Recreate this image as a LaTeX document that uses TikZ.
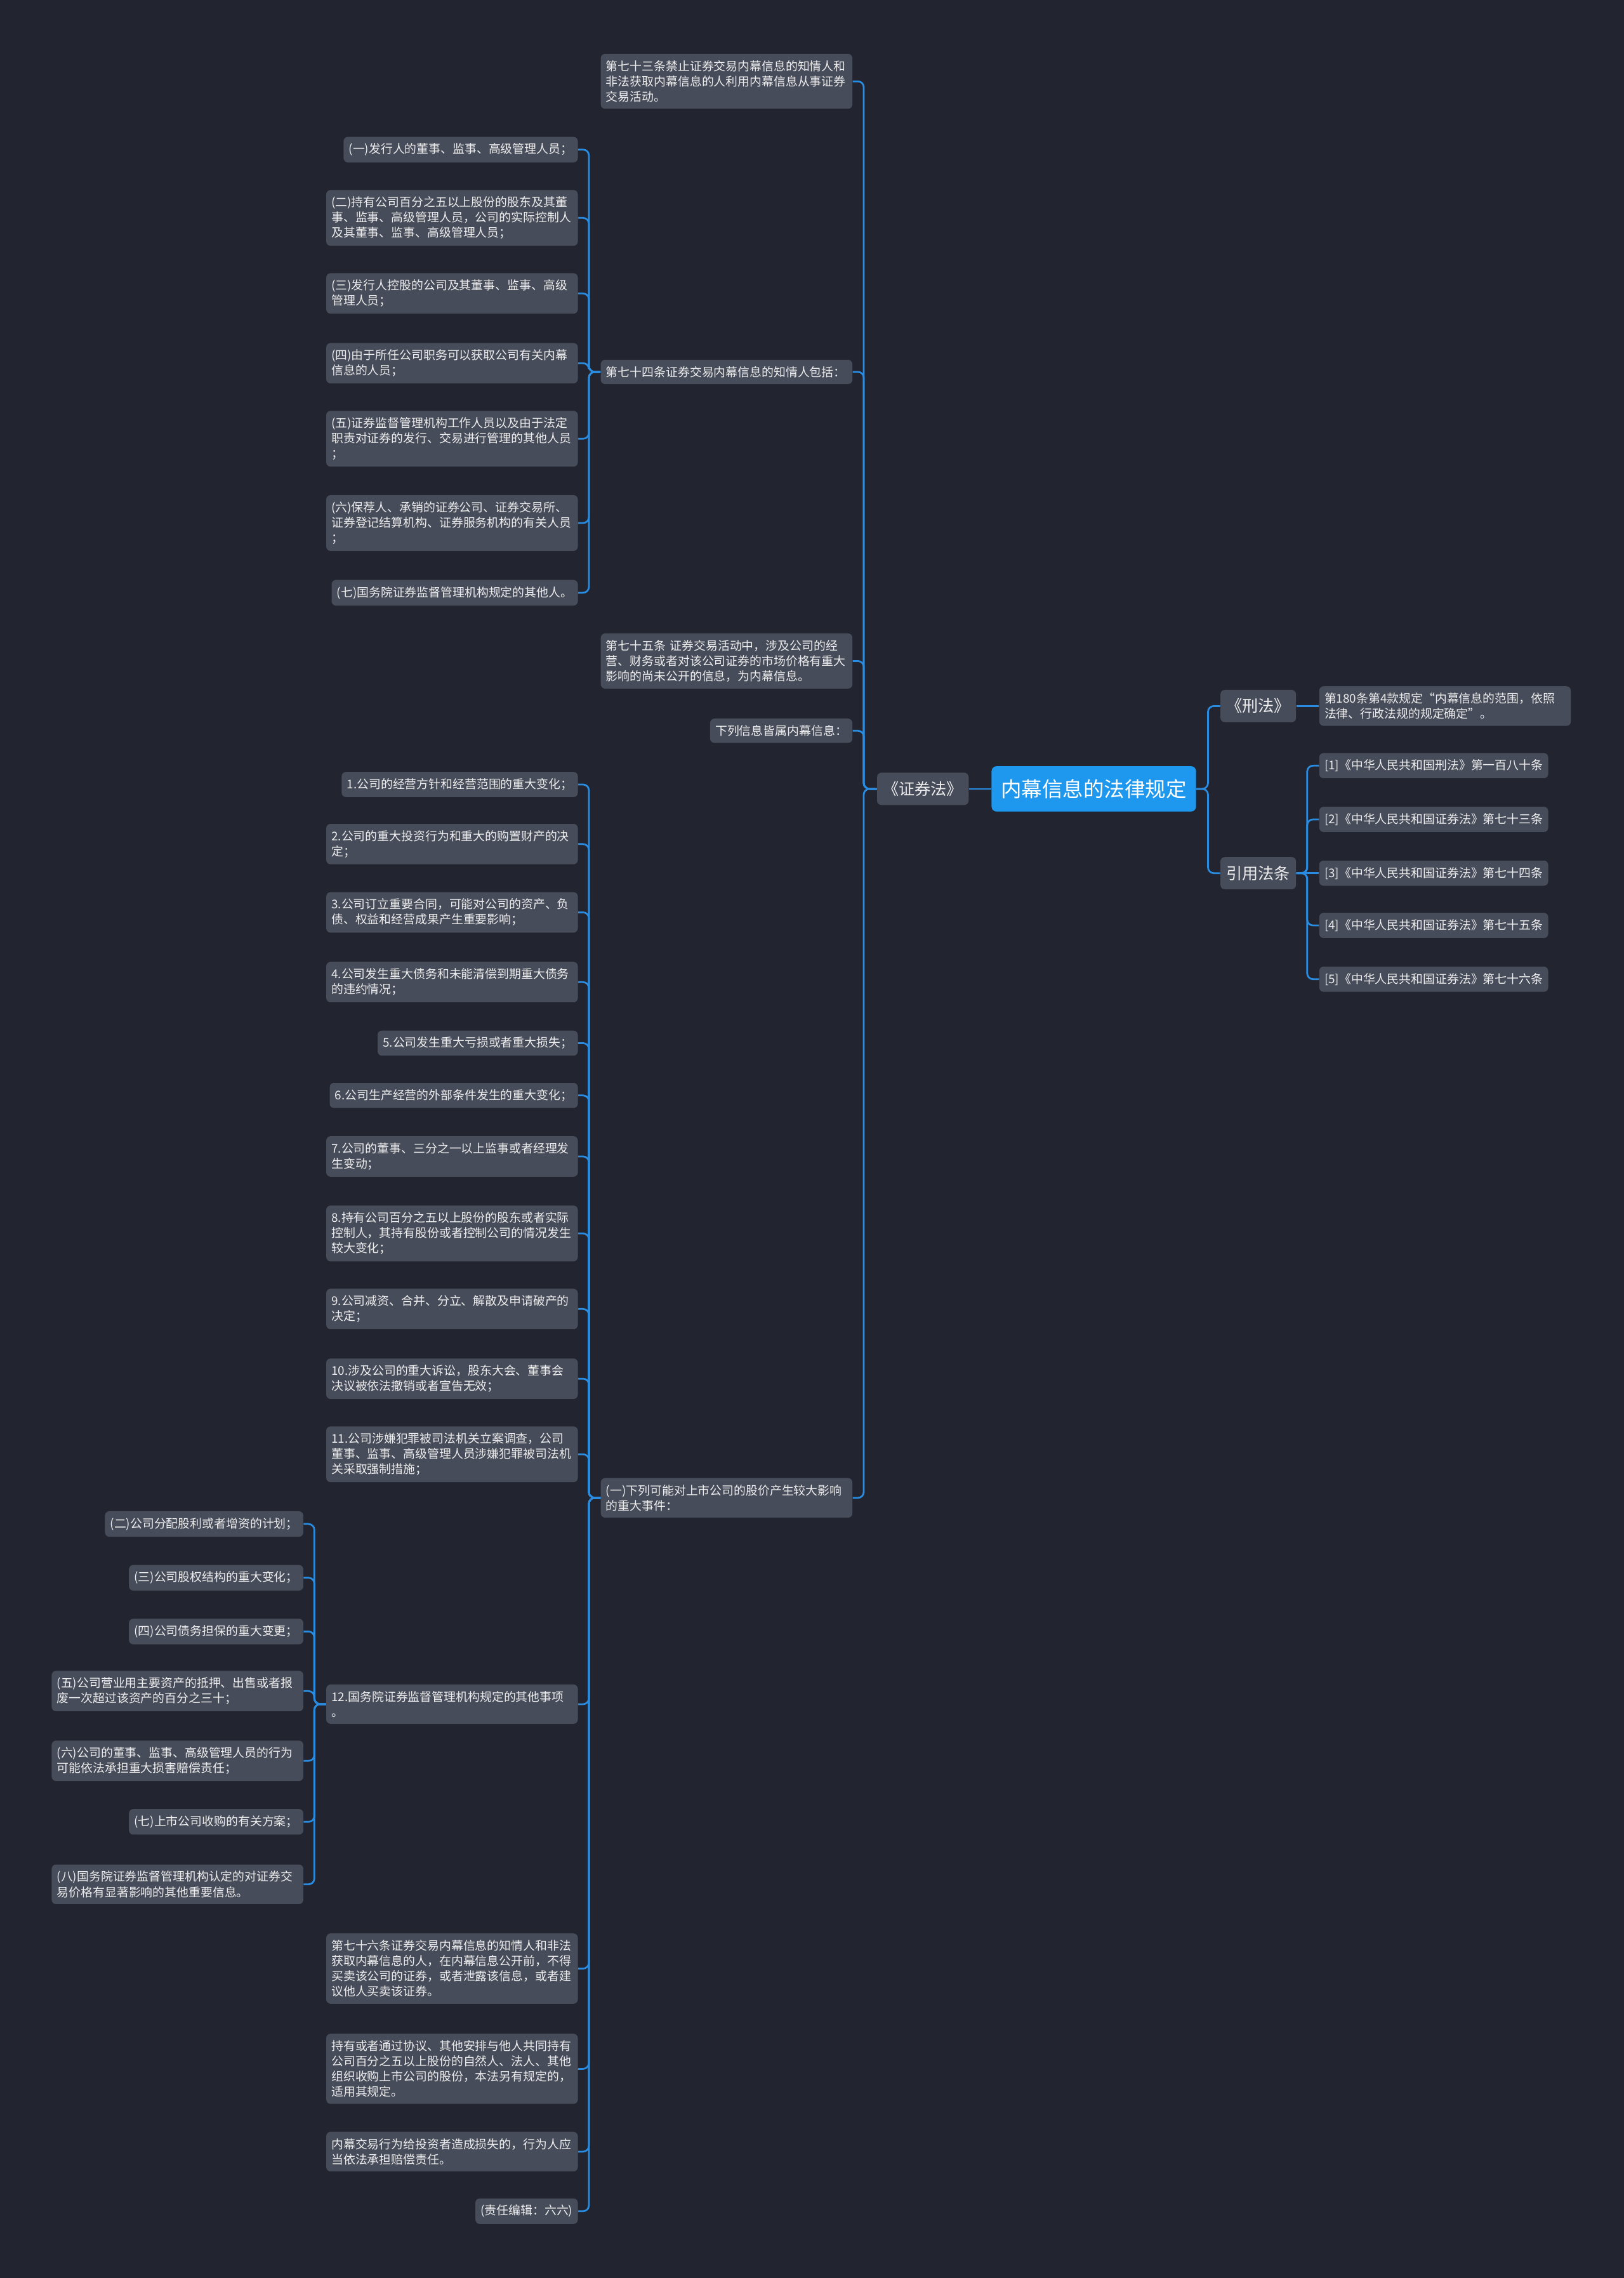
\documentclass[tikz,border=0pt]{standalone}
\usepackage{fontspec}
\setmainfont{Noto Sans CJK SC}
\usetikzlibrary{backgrounds}

\definecolor{bgcol}{HTML}{22252F}
\definecolor{boxcol}{HTML}{474C5A}
\definecolor{rootcol}{HTML}{1E98EE}
\definecolor{linecol}{HTML}{2A8CE0}
\definecolor{txtcol}{HTML}{EDEDED}

\begin{document}
\begin{tikzpicture}[x=1pt,y=-1pt,
  leaf/.style={fill=boxcol,text=txtcol,rounded corners=3pt,inner xsep=3.6pt,inner ysep=4.5pt,
    font=\fontsize{8.25pt}{10.55pt}\selectfont,align=left},
  wide/.style={leaf,text width=166pt},
  mid/.style={fill=boxcol,text=txtcol,rounded corners=3pt,inner xsep=4pt,inner ysep=6pt,
    font=\fontsize{11pt}{13pt}\selectfont},
  topic/.style={fill=rootcol,text=white,rounded corners=3.5pt,inner xsep=6.5pt,inner ysep=9pt,
    font=\fontsize{14.2pt}{17pt}\selectfont},
  link/.style={draw=linecol,line width=1.2pt,rounded corners=4pt}]

\fill[bgcol] (0,0) rectangle (1118,1568);

\node[topic] (root) at (753,543) {内幕信息的法律规定};
\node[mid,anchor=east] (zqf) at (667,543) {《证券法》};
\node[mid,anchor=west] (xf) at (840,486) {《刑法》};
\node[mid,anchor=west] (yyft) at (840,601) {引用法条};

\node[wide,anchor=west] (xf1) at (908,486) {第180条第4款规定“内幕信息的范围，依照\\法律、行政法规的规定确定”。};
\node[leaf,anchor=west] (r1) at (908,527) {[1]《中华人民共和国刑法》第一百八十条};
\node[leaf,anchor=west] (r2) at (908,564) {[2]《中华人民共和国证券法》第七十三条};
\node[leaf,anchor=west] (r3) at (908,601) {[3]《中华人民共和国证券法》第七十四条};
\node[leaf,anchor=west] (r4) at (908,637) {[4]《中华人民共和国证券法》第七十五条};
\node[leaf,anchor=west] (r5) at (908,674) {[5]《中华人民共和国证券法》第七十六条};

\node[wide,anchor=east] (a73) at (587,56) {第七十三条禁止证券交易内幕信息的知情人和\\非法获取内幕信息的人利用内幕信息从事证券\\交易活动。};
\node[wide,anchor=east] (a74) at (587,256) {第七十四条证券交易内幕信息的知情人包括：};
\node[wide,anchor=east] (a75) at (587,455) {第七十五条 证券交易活动中，涉及公司的经\\营、财务或者对该公司证券的市场价格有重大\\影响的尚未公开的信息，为内幕信息。};
\node[leaf,anchor=east] (a75b) at (587,503) {下列信息皆属内幕信息：};
\node[wide,anchor=east] (a1x) at (587,1031) {(一)下列可能对上市公司的股价产生较大影响\\的重大事件：};

\node[leaf,anchor=east] (p1) at (398,103) {(一)发行人的董事、监事、高级管理人员；};
\node[wide,anchor=east] (p2) at (398,150) {(二)持有公司百分之五以上股份的股东及其董\\事、监事、高级管理人员，公司的实际控制人\\及其董事、监事、高级管理人员；};
\node[wide,anchor=east] (p3) at (398,202) {(三)发行人控股的公司及其董事、监事、高级\\管理人员；};
\node[wide,anchor=east] (p4) at (398,250) {(四)由于所任公司职务可以获取公司有关内幕\\信息的人员；};
\node[wide,anchor=east] (p5) at (398,302) {(五)证券监督管理机构工作人员以及由于法定\\职责对证券的发行、交易进行管理的其他人员\\；};
\node[wide,anchor=east] (p6) at (398,360) {(六)保荐人、承销的证券公司、证券交易所、\\证券登记结算机构、证券服务机构的有关人员\\；};
\node[leaf,anchor=east] (p7) at (398,408) {(七)国务院证券监督管理机构规定的其他人。};

\node[leaf,anchor=east] (k1) at (398,540) {1.公司的经营方针和经营范围的重大变化；};
\node[wide,anchor=east] (k2) at (398,581) {2.公司的重大投资行为和重大的购置财产的决\\定；};
\node[wide,anchor=east] (k3) at (398,628) {3.公司订立重要合同，可能对公司的资产、负\\债、权益和经营成果产生重要影响；};
\node[wide,anchor=east] (k4) at (398,676) {4.公司发生重大债务和未能清偿到期重大债务\\的违约情况；};
\node[leaf,anchor=east] (k5) at (398,718) {5.公司发生重大亏损或者重大损失；};
\node[leaf,anchor=east] (k6) at (398,754) {6.公司生产经营的外部条件发生的重大变化；};
\node[wide,anchor=east] (k7) at (398,796) {7.公司的董事、三分之一以上监事或者经理发\\生变动；};
\node[wide,anchor=east] (k8) at (398,849) {8.持有公司百分之五以上股份的股东或者实际\\控制人，其持有股份或者控制公司的情况发生\\较大变化；};
\node[wide,anchor=east] (k9) at (398,901) {9.公司减资、合并、分立、解散及申请破产的\\决定；};
\node[wide,anchor=east] (k10) at (398,949) {10.涉及公司的重大诉讼，股东大会、董事会\\决议被依法撤销或者宣告无效；};
\node[wide,anchor=east] (k11) at (398,1001) {11.公司涉嫌犯罪被司法机关立案调查，公司\\董事、监事、高级管理人员涉嫌犯罪被司法机\\关采取强制措施；};
\node[wide,anchor=east] (k12) at (398,1173) {12.国务院证券监督管理机构规定的其他事项\\。};
\node[wide,anchor=east] (k13) at (398,1355) {第七十六条证券交易内幕信息的知情人和非法\\获取内幕信息的人，在内幕信息公开前，不得\\买卖该公司的证券，或者泄露该信息，或者建\\议他人买卖该证券。};
\node[wide,anchor=east] (k14) at (398,1424) {持有或者通过协议、其他安排与他人共同持有\\公司百分之五以上股份的自然人、法人、其他\\组织收购上市公司的股份，本法另有规定的，\\适用其规定。};
\node[wide,anchor=east] (k15) at (398,1481) {内幕交易行为给投资者造成损失的，行为人应\\当依法承担赔偿责任。};
\node[leaf,anchor=east] (k16) at (398,1522) {(责任编辑：六六)};

\node[leaf,anchor=east] (b2) at (209,1049) {(二)公司分配股利或者增资的计划；};
\node[leaf,anchor=east] (b3) at (209,1086) {(三)公司股权结构的重大变化；};
\node[leaf,anchor=east] (b4) at (209,1123) {(四)公司债务担保的重大变更；};
\node[wide,anchor=east] (b5) at (209,1164) {(五)公司营业用主要资产的抵押、出售或者报\\废一次超过该资产的百分之三十；};
\node[wide,anchor=east] (b6) at (209,1212) {(六)公司的董事、监事、高级管理人员的行为\\可能依法承担重大损害赔偿责任；};
\node[leaf,anchor=east] (b7) at (209,1254) {(七)上市公司收购的有关方案；};
\node[wide,anchor=east] (b8) at (209,1297) {(八)国务院证券监督管理机构认定的对证券交\\易价格有显著影响的其他重要信息。};

\draw[link] (root.west) -- (zqf.east);
\draw[link] (root.east) -- ++(8,0) |- (xf.west);
\draw[link] (root.east) -- ++(8,0) |- (yyft.west);
\draw[link] (xf.east) -- (xf1.west);

\draw[link] (yyft.east) -- ++(7.5,0) |- (r1.west);
\draw[link] (yyft.east) -- ++(7.5,0) |- (r2.west);
\draw[link] (yyft.east) -- (r3.west);
\draw[link] (yyft.east) -- ++(7.5,0) |- (r4.west);
\draw[link] (yyft.east) -- ++(7.5,0) |- (r5.west);

\draw[link] (zqf.west) -- ++(-9,0) |- (a73.east);
\draw[link] (zqf.west) -- ++(-9,0) |- (a74.east);
\draw[link] (zqf.west) -- ++(-9,0) |- (a75.east);
\draw[link] (zqf.west) -- ++(-9,0) |- (a75b.east);
\draw[link] (zqf.west) -- ++(-9,0) |- (a1x.east);

\draw[link] (a74.west) -- ++(-8,0) |- (p1.east);
\draw[link] (a74.west) -- ++(-8,0) |- (p2.east);
\draw[link] (a74.west) -- ++(-8,0) |- (p3.east);
\draw[link] (a74.west) -- ++(-8,0) |- (p4.east);
\draw[link] (a74.west) -- ++(-8,0) |- (p5.east);
\draw[link] (a74.west) -- ++(-8,0) |- (p6.east);
\draw[link] (a74.west) -- ++(-8,0) |- (p7.east);

\draw[link] (a1x.west) -- ++(-8,0) |- (k1.east);
\draw[link] (a1x.west) -- ++(-8,0) |- (k2.east);
\draw[link] (a1x.west) -- ++(-8,0) |- (k3.east);
\draw[link] (a1x.west) -- ++(-8,0) |- (k4.east);
\draw[link] (a1x.west) -- ++(-8,0) |- (k5.east);
\draw[link] (a1x.west) -- ++(-8,0) |- (k6.east);
\draw[link] (a1x.west) -- ++(-8,0) |- (k7.east);
\draw[link] (a1x.west) -- ++(-8,0) |- (k8.east);
\draw[link] (a1x.west) -- ++(-8,0) |- (k9.east);
\draw[link] (a1x.west) -- ++(-8,0) |- (k10.east);
\draw[link] (a1x.west) -- ++(-8,0) |- (k11.east);
\draw[link] (a1x.west) -- ++(-8,0) |- (k12.east);
\draw[link] (a1x.west) -- ++(-8,0) |- (k13.east);
\draw[link] (a1x.west) -- ++(-8,0) |- (k14.east);
\draw[link] (a1x.west) -- ++(-8,0) |- (k15.east);
\draw[link] (a1x.west) -- ++(-8,0) |- (k16.east);

\draw[link] (k12.west) -- ++(-8,0) |- (b2.east);
\draw[link] (k12.west) -- ++(-8,0) |- (b3.east);
\draw[link] (k12.west) -- ++(-8,0) |- (b4.east);
\draw[link] (k12.west) -- ++(-8,0) |- (b5.east);
\draw[link] (k12.west) -- ++(-8,0) |- (b6.east);
\draw[link] (k12.west) -- ++(-8,0) |- (b7.east);
\draw[link] (k12.west) -- ++(-8,0) |- (b8.east);

\end{tikzpicture}
\end{document}
